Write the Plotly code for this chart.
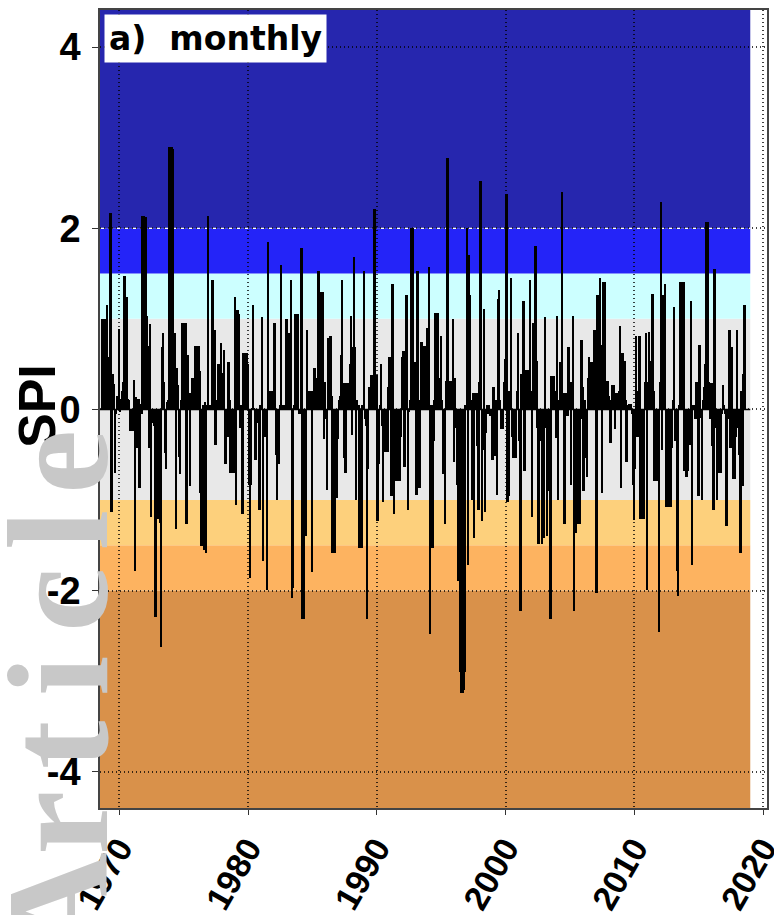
import plotly.graph_objects as go

# ---------------- data ----------------
start_year = 1968 + 8 / 12  # first month of the monthly SPI series

spi_part1 = [1.0, 1.0, 1.0, 1.0, 1.0, 1.15, 0.58, 0.58, 2.17, -1.13,
             0.39, 0.28, -0.7, -0.05, 0.15, 0.1, 0.89, -0.03, 0.12, 0.2,
             0.3, 1.47, 1.24, 1.24, 0.12, 0.1, -0.24, -0.24, -0.24, -0.24,
             0.32, -1.78, 0.14, -0.43, 0.12, -0.87, 0.06, -0.05, 2.14, 2.14,
             2.12, 2.12, 1.03, 0.7, -0.43, 0.94, -1.19, -0.07, -0.15, -0.18,
             -2.29, -1.21, -1.21, -1.2, -1.25, -2.62, 0.69, 0.84, 0.3, -0.48,
             -0.66, 0.08, 0.1, 2.9, 2.9, 2.9, 2.88, 0.84, 0.84, -1.32,
             0.46, 0.27, -0.52, -0.71, 0.1, 0.96, 0.96, 0.96, 0.96, -1.27,
             0.6, 0.18, -0.85, 0.18, 0.35, 0.35, 0.35, 0.7, 0.7, 0.7,
             0.7, 0.42, -0.92, -1.51, 0.05, -1.55, 0.08, -1.59, 0.05, 2.14,
             0.05, 0.05, 0.05, 1.43, 0.46]
spi_part2 = [0.88, -0.39, 0.1, 0.5, 0.5, 0.5, 0.73, 0.4, 0.4, 0.66,
             -0.6, -0.25, -0.3, 0.52, 0.1, -0.7, -0.7, -0.7, -0.7, 1.24,
             -1.06, 1.1, 1.1, 1.05, -0.2, 0.05, -1.15, 0.62, 0.62, 0.62,
             0.62, 0.5, -0.83, -1.86, -0.83, 0.02, 1.15, 0.02, -0.56, -0.15,
             -0.15, -0.15, -1.11, 0.05, 1.02, -1.67, -0.3, -0.3, -0.3, -1.99,
             1.85, 0.2, 0.2, 0.2, 0.2, 0.2, 0.96, -0.5, -1.0, -0.5,
             -0.6, 0.05, 1.59, 0.05, 0.05, 0.05, 0.05, 1.0, 0.73, 0.84,
             0.84, 1.43, -2.08, -1.97, 0.05, 1.05, 1.05, 1.05, 1.05, -0.05,
             -0.05, 1.78, -2.31, -2.31, -0.8, -1.4, 0.88, 0.2, 0.2, 0.2,
             0.2, -1.8, 0.2, 0.46, 0.35, 0.15, 0.15, 1.53, 1.03, 1.3,
             1.3, 1.3]
spi_part3 = [-0.33, 0.3, -0.1, -0.89, 0.79, 0.15, 0.81, 0.15, -1.59, -1.59,
             -1.59, -0.98, -0.98, -0.33, 0.1, 0.15, 0.6, 1.43, 0.29, -0.54,
             -0.7, 0.29, 0.29, 0.29, 0.5, 1.03, -0.28, 0.69, 1.68, 0.69,
             -1.0, 0.1, 0.05, -1.53, -1.53, -1.53, 0.05, 1.53, -0.1, -0.18,
             -2.31, -0.66, 0.25, 0.25, 0.38, 0.25, 0.38, 2.21, 0.38, 0.38,
             -1.23, -0.6, 0.05, 0.5, -0.18, -1.02, -0.47, -0.47, -0.47, -0.47,
             0.25, 0.58, 0.05, -0.96, 1.38, -1.15, -0.68, -0.79, -0.79, -0.79,
             -0.79, -0.79, -0.3, 0.58, 0.64, -0.64, 0.1, 1.26, -1.11, -0.03,
             0.1, 2.0, 2.0, 2.0, 0.05, 0.52, -0.94, 1.53, -0.3, -0.87,
             0.1, 0.75, 0.7, 0.7, 0.7, 0.7, 0.9, 0.9, 1.57, -2.48,
             0.05, -1.53]
spi_part4 = [-0.35, 0.1, 1.07, 1.07, 1.07, 0.35, 0.35, 0.81, 0.1, -0.71,
             -0.3, -1.27, 0.31, 2.78, 0.31, 0.31, 0.31, 0.31, 1.0, -0.58,
             0.35, -0.2, -0.83, -1.89, -1.89, -2.9, -3.13, -3.13, -3.1, -2.9,
             0.05, 2.0, -1.72, 1.7, 1.26, 0.1, -1.0, 0.18, -1.42, 0.18,
             0.18, -0.4, -1.11, 0.3, 2.52, -1.23, -0.45, 1.11, -1.13, -0.26,
             0.05, -0.05, 0.05, -0.07, -0.07, -0.56, 0.25, -0.51, 0.1, -0.94,
             1.22, 1.32, 0.1, -0.22, -0.22, -0.22, 0.3, 0.56, 2.38, -1.02,
             -0.95, 0.2, 1.45, -0.3, -0.54, -0.54, -0.54, -0.54, 0.2, 0.84,
             -0.35, -2.22, 0.39, 0.39, 1.2, -0.68, 0.44, 0.44, 0.44, 0.44,
             1.43, 0.2, -1.19, 0.96, 0.6, 1.81, 0.54, -0.2, -1.48, -0.35,
             -0.35, -1.48]
spi_part5 = [-0.87, -1.42, 1.02, -0.2, -1.4, -0.9, -0.9, -2.31, 0.37, 0.37,
             0.37, 0.2, -0.32, 1.03, -1.0, 0.1, 0.52, 0.3, 2.4, 0.18,
             -1.27, 0.18, 0.1, -0.07, 0.69, 0.3, -0.83, 0.3, 1.03, -2.22,
             -1.27, -1.36, -1.27, -1.27, -1.27, -0.1, 0.77, 0.25, -0.9, 0.1,
             -0.54, -0.75, 0.35, 0.58, 0.52, 0.52, 0.52, 0.52, 0.88, 0.1,
             -2.03, 1.26, 0.6, 1.45, 0.71, -0.92, 1.41, 1.41, 1.41, 0.31,
             0.31, 0.15, 0.1, -0.37, 0.1, 0.27, 0.27, -0.22, 0.18, 0.18,
             0.18, 0.2, 0.92, -0.87, 0.62, 0.54, 0.54, 0.1, -0.58, 0.05,
             0.06, 0.06, 0.06, -0.05, -0.83, -1.22, -0.66, 0.81, -0.3, 0.2,
             0.81, -1.21, -1.21, -1.21, -1.21, 0.3, 0.84, -1.99, 0.3, 0.86,
             0.54]
spi_part6 = [0.54, 1.28, 0.2, -0.79, -0.79, -0.79, -0.79, -2.46, 0.3, 2.29,
             -0.45, 1.26, 0.3, 1.38, -1.08, -1.08, -1.08, -1.08, -1.08, -0.43,
             0.1, 1.13, -0.35, -0.35, -1.78, -2.06, 0.05, 1.41, 1.41, 1.41,
             1.41, -0.68, -0.68, -0.75, -0.68, -0.3, -0.39, 1.2, -1.72, 0.05,
             0.05, -0.1, 0.3, 0.14, -0.96, 0.71, -0.09, -1.0, 0.1, 0.25,
             0.5, 2.07, 2.07, 2.07, 0.3, -0.1, 0.29, -0.4, -1.11, 1.55,
             -0.2, -1.0, -0.7, -0.7, -0.7, -0.7, -0.05, 0.27, 0.05, -0.05,
             -1.29, -0.05, -0.1, 0.88, -0.43, 0.69, -0.77, -0.77, -0.77, -0.3,
             0.88, -0.2, -0.5, -1.59, 0.2, -0.85, 0.39, 1.15]

spi = spi_part1 + spi_part2 + spi_part3 + spi_part4 + spi_part5 + spi_part6
months = [start_year + i / 12 for i in range(len(spi))]

# SPI class thresholds and colours
class_edges = [-4.4, -2.0, -1.5, -1.0, 1.0, 1.5, 2.0, 4.41]
class_colors = ["#D9914A", "#FDB360", "#FDD07C", "#E8E8E8",
                "#CCFFFF", "#2424F8", "#2626AE"]

x_ticks = [1970, 1980, 1990, 2000, 2010, 2020]
y_ticks = [-4, -2, 0, 2, 4]
band_end = 2019.0
x_range = [1968.5, 2020.3]

# ---------------- figure ----------------
W, H = 774, 915
ML, MR, MT, MB = 100, 7, 10, 107
PW, PH = W - ML - MR, H - MT - MB


def px_x(px):
    return (px - ML) / PW


def px_y(py):
    return (H - MB - py) / PH


fig = go.Figure()
fig.add_trace(go.Bar(x=months, y=spi, width=0.15,
                     marker=dict(color="black", line=dict(width=0)),
                     showlegend=False, hoverinfo="x+y"))

shapes = []
for i, col in enumerate(class_colors):
    shapes.append(dict(type="rect", xref="x", yref="y", layer="below",
                       x0=x_range[0], x1=band_end,
                       y0=class_edges[i], y1=class_edges[i + 1],
                       fillcolor=col, line=dict(width=0)))
shapes.append(dict(type="line", xref="x", yref="y", layer="below",
                   x0=x_range[0], x1=band_end, y0=2, y1=2,
                   line=dict(color="white", width=1.2, dash="5px,3px")))
shapes.append(dict(type="line", xref="x", yref="y", layer="above",
                   x0=x_range[0], x1=band_end, y0=0, y1=0,
                   line=dict(color="black", width=1.5)))

y_tick_font = dict(family="Liberation Sans", size=38, color="black", weight="bold")
x_tick_font = dict(family="Liberation Sans", size=34, color="black", weight="bold")

annotations = [
    dict(text="a)\u00a0 monthly", xref="paper", yref="paper",
         x=px_x(104), y=px_y(14), xanchor="left", yanchor="top",
         showarrow=False, bgcolor="white", borderpad=4,
         font=dict(family="DejaVu Sans", size=33, color="black", weight="bold")),
    dict(text="SPI", xref="paper", yref="paper", x=px_x(37), y=px_y(406),
         xanchor="center", yanchor="middle", textangle=-90, showarrow=False,
         font=dict(family="Liberation Sans", size=52, color="black", weight="bold")),
]

# faint "Article" watermark at the left edge
wm_letters = ["e", "l", "c", "i", "t", "r", "A"]
wm_centres = [462, 530, 600, 676, 745, 823, 905]
for ch, cy in zip(wm_letters, wm_centres):
    annotations.append(dict(text=ch, xref="paper", yref="paper",
                            x=px_x(58), y=px_y(cy), xanchor="center", yanchor="middle",
                            textangle=-90, showarrow=False,
                            font=dict(family="Liberation Serif", size=145,
                                      color="#C8C8C8", weight="bold")))

grid_dash = "1px,3px"
fig.update_layout(
    width=W, height=H,
    margin=dict(l=ML, r=MR, t=MT, b=MB, autoexpand=False),
    paper_bgcolor="white", plot_bgcolor="white",
    bargap=0, shapes=shapes, annotations=annotations,
    xaxis=dict(range=x_range, tickvals=x_ticks, ticktext=[str(v) for v in x_ticks],
               tickangle=-60, tickfont=x_tick_font, ticks="outside", ticklen=5,
               tickcolor="#333", showgrid=True, gridcolor="rgba(0,0,0,0.75)",
               griddash=grid_dash, gridwidth=1.5, zeroline=False, showline=True,
               mirror=True, linecolor="#444", linewidth=1.5, automargin=False,
               ticklabeloverflow="allow"),
    yaxis=dict(range=[class_edges[0], class_edges[-1]], tickvals=y_ticks,
               ticktext=[str(v) for v in y_ticks], tickfont=y_tick_font,
               ticks="outside", ticklen=6, tickcolor="#333", showgrid=True,
               gridcolor="rgba(0,0,0,0.75)", griddash=grid_dash, gridwidth=1.5,
               zeroline=False, showline=True, mirror=True, linecolor="#444",
               linewidth=1.5, automargin=False, ticklabelstandoff=4),
)

fig.write_html("out.html", config={"displayModeBar": False},
               post_script="document.body.style.margin='0px';"
                           "document.body.style.overflow='hidden';")
